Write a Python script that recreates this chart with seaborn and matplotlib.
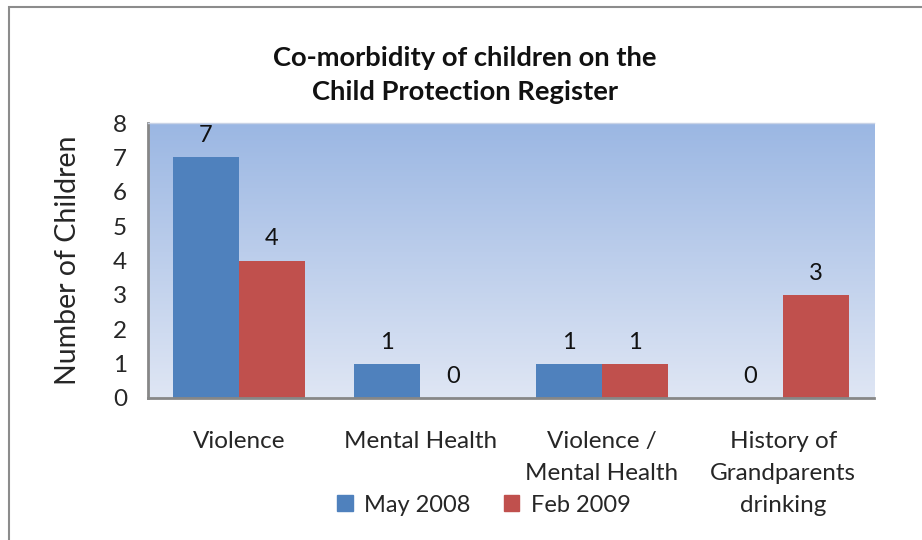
import numpy as np
import pandas as pd
import matplotlib
matplotlib.use("Agg")
import matplotlib.pyplot as plt
import matplotlib.patches as mpatches
from matplotlib.colors import LinearSegmentedColormap
import seaborn as sns

categories = ["Violence", "Mental Health", "Violence /\nMental Health",
              "History of\nGrandparents\ndrinking"]
series_names = ["May 2008", "Feb 2009"]
may_2008 = [7, 1, 1, 0]
feb_2009 = [4, 0, 1, 3]
y_ticks = [0, 1, 2, 3, 4, 5, 6, 7, 8]

colors = ["#4F81BD", "#C0504D"]

sns.set_theme(style="white")
plt.rcParams["font.family"] = ["Lato", "DejaVu Sans"]

df = pd.DataFrame({
    "category": categories * 2,
    "series": [series_names[0]] * len(categories) + [series_names[1]] * len(categories),
    "value": may_2008 + feb_2009,
})

fig = plt.figure(figsize=(9.22, 5.4), dpi=100)
ax = fig.add_axes([148 / 922, 1 - 398 / 540, (874 - 148) / 922, (398 - 123) / 540])

# gradient plot-area background
grad = LinearSegmentedColormap.from_list("bg", ["#DFE6F4", "#9BB7E3"])
ax.imshow(np.linspace(0, 1, 256).reshape(-1, 1), cmap=grad, origin="lower",
          aspect="auto", extent=[0, 1, 0, 1], transform=ax.transAxes, zorder=0)

sns.barplot(data=df, x="category", y="value", hue="series", palette=colors,
            width=0.727, linewidth=0, saturation=1, ax=ax, zorder=2, legend=False)

for cont in ax.containers:
    ax.bar_label(cont, fmt="%d", padding=8, fontsize=17, color="#111111")

ax.set_ylim(0, 8)
ax.set_xlim(-0.5, len(categories) - 0.5)
ax.set_yticks(y_ticks)
ax.set_yticklabels([str(t) for t in y_ticks], fontsize=17.5)
ax.tick_params(axis="y", length=0, pad=15)
ax.tick_params(axis="x", length=0, pad=24, labelsize=17.5)
for lbl in ax.get_xticklabels():
    lbl.set_linespacing(1.65)
ax.set_xlabel("")
ax.set_ylabel("Number of Children", fontsize=20.5, labelpad=23)

ax.spines["right"].set_visible(False)
ax.spines["top"].set_color("#C9D3E6")
ax.spines["top"].set_linewidth(1)
for side in ["left", "bottom"]:
    ax.spines[side].set_color("#878787")
    ax.spines[side].set_linewidth(2)

fig.text(465 / 922, 1 - 75 / 540,
         "Co-morbidity of children on the\nChild Protection Register",
         ha="center", va="center", fontsize=19.7, fontweight="bold",
         linespacing=1.55, color="#111111")

handles = [mpatches.Patch(color=c, label=n) for c, n in zip(colors, series_names)]
fig.legend(handles=handles, loc="center", bbox_to_anchor=(484 / 922, 1 - 505 / 540),
           ncol=2, frameon=False, fontsize=17, handlelength=0.65, handleheight=0.65,
           handletextpad=0.5, columnspacing=1.4)

# outer chart border
fig.patches.append(mpatches.Rectangle((9 / 922, -0.1), 1.2, 1 - 7 / 540 + 0.1,
                                      transform=fig.transFigure, fill=False,
                                      edgecolor="#8C8C8C", linewidth=1.5))

fig.savefig("out.png", dpi=100)
